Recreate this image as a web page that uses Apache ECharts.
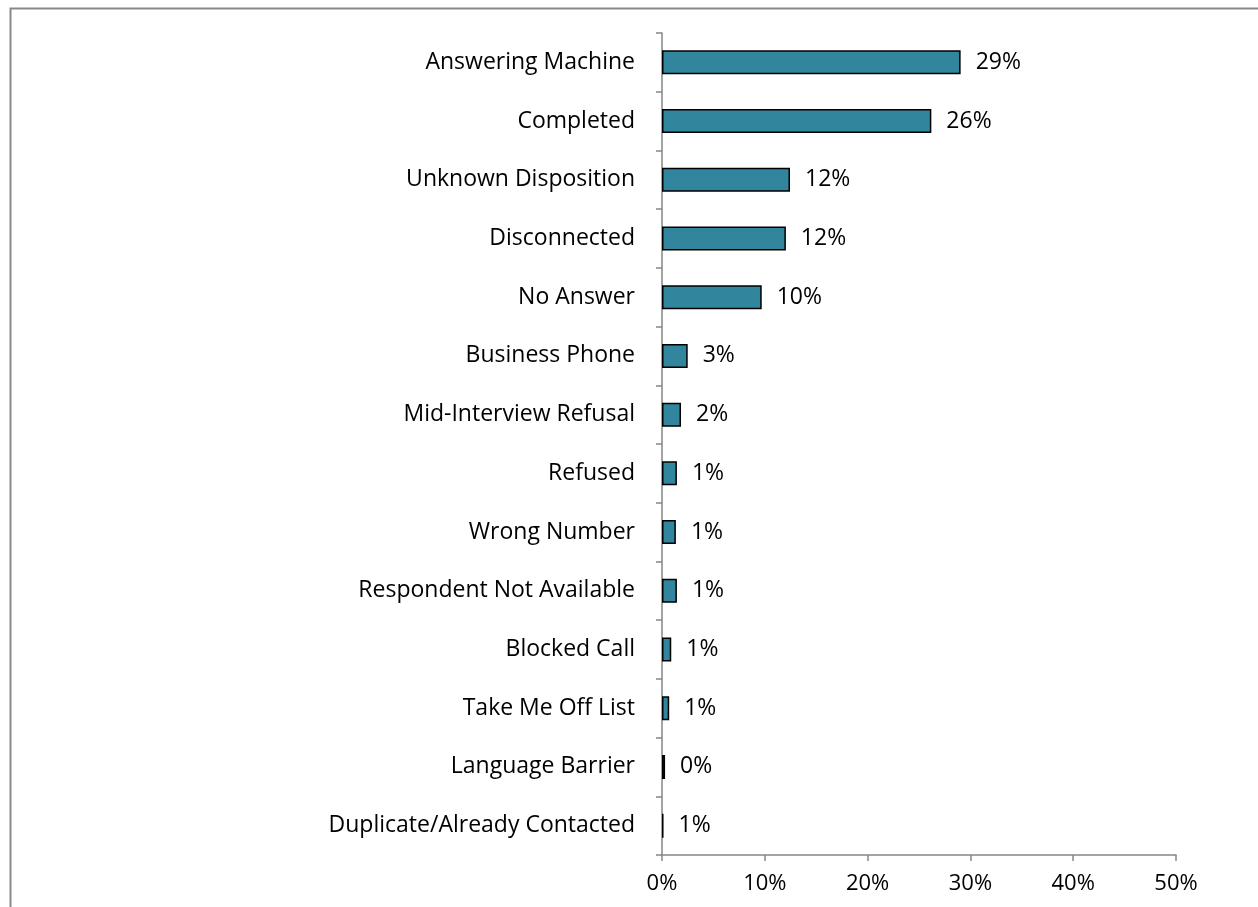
<!DOCTYPE html>
<html>
<head>
<meta charset="utf-8">
<script src="https://cdn.jsdelivr.net/npm/echarts@6/dist/echarts.min.js"></script>
<style>
html,body{margin:0;padding:0;background:#fff;}
#chart{width:1258px;height:907px;}
</style>
</head>
<body>
<div id="chart"></div>
<script>
const categories = ["Answering Machine","Completed","Unknown Disposition","Disconnected","No Answer","Business Phone","Mid-Interview Refusal","Refused","Wrong Number","Respondent Not Available","Blocked Call","Take Me Off List","Language Barrier","Duplicate/Already Contacted"];
const values = [29.05, 26.2, 12.45, 12.05, 9.7, 2.5, 1.85, 1.45, 1.35, 1.45, 0.9, 0.7, 0.3, 0.15];
const valueLabels = ["29%","26%","12%","12%","10%","3%","2%","1%","1%","1%","1%","1%","0%","1%"];
const xTicks = [0, 10, 20, 30, 40, 50];

const FONT = '"Open Sans", "Noto Sans", sans-serif';
const chart = echarts.init(document.getElementById('chart'), null, {renderer:'canvas'});
chart.setOption({
  animation:false,
  backgroundColor:'#ffffff',
  graphic:[{
    type:'rect', left:8, top:6,
    shape:{x:0,y:0,width:1400,height:1000},
    style:{fill:'none', stroke:'#898989', lineWidth:2}
  }],
  grid:{left:662, top:33, right:82, bottom:52, containLabel:false},
  xAxis:{
    type:'value', min:xTicks[0], max:xTicks[xTicks.length-1], interval:10,
    axisLine:{show:true, lineStyle:{color:'#868686', width:1.5}},
    axisTick:{show:true, length:6, lineStyle:{color:'#868686', width:1.5}},
    splitLine:{show:false},
    axisLabel:{formatter:'{value}%', color:'#000', fontFamily:FONT, fontSize:22, margin:18}
  },
  yAxis:{
    type:'category', data:categories, inverse:true,
    axisLine:{show:true, lineStyle:{color:'#868686', width:1.5}},
    axisTick:{show:true, length:6, lineStyle:{color:'#868686', width:1.5}},
    axisLabel:{color:'#000', fontFamily:FONT, fontSize:23, margin:27}
  },
  series:[{
    type:'bar', data:values, barWidth:24,
    itemStyle:{color:'#31859C', borderColor:'#000', borderWidth:1.5},
    label:{show:true, position:'right', distance:15, color:'#000', fontFamily:FONT, fontSize:23,
      formatter:p => valueLabels[p.dataIndex]}
  }]
});
</script>
</body>
</html>
